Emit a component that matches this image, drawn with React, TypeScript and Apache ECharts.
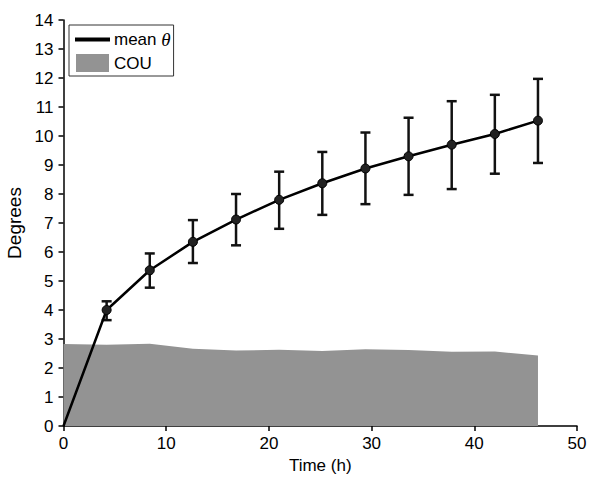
import React, { useEffect, useRef } from "react";
import * as echarts from "echarts";

const timeH = [0, 4.2, 8.4, 12.6, 16.8, 21, 25.2, 29.4, 33.6, 37.8, 42, 46.2];
const meanTheta = [0, 4.0, 5.37, 6.35, 7.12, 7.8, 8.37, 8.88, 9.3, 9.7, 10.07, 10.53];
const errUpper = [null, 4.3, 5.95, 7.1, 8.0, 8.77, 9.45, 10.12, 10.63, 11.2, 11.42, 11.97];
const errLower = [null, 3.65, 4.77, 5.62, 6.23, 6.8, 7.28, 7.65, 7.97, 8.17, 8.7, 9.07];
const couValues = [2.83, 2.8, 2.84, 2.66, 2.6, 2.63, 2.59, 2.65, 2.62, 2.56, 2.57, 2.43];
const xTicks = [0, 10, 20, 30, 40, 50];
const yMax = 14;

export default function App() {
  const ref = useRef<HTMLDivElement>(null);
  useEffect(() => {
    if (!ref.current) return;
    const chart = echarts.init(ref.current, null, { renderer: "svg" });
    const font = "'Liberation Sans', Arial, sans-serif";
    const meanData = timeH.map((t, i) =>
      i === 0 ? { value: [t, meanTheta[i]], symbolSize: 0 } : [t, meanTheta[i]]
    );
    const errData = timeH
      .map((t, i) => [t, errLower[i], errUpper[i]])
      .filter((d) => d[1] != null);
    chart.setOption({
      animation: false,
      backgroundColor: "#fff",
      textStyle: { fontFamily: font },
      grid: {
        left: 63.5,
        right: 23,
        top: 20,
        bottom: 51,
        containLabel: false,
        outerBoundsMode: "none",
      },
      legend: {
        left: 69,
        top: 25,
        orient: "vertical",
        backgroundColor: "#fff",
        borderColor: "#333",
        borderWidth: 1,
        borderRadius: 0,
        padding: [5, 3, 4, 6],
        itemWidth: 33,
        itemHeight: 18,
        itemGap: 5,
        data: [
          { name: "mean θ", icon: "path://M0,0H33V2H0Z", itemStyle: { color: "#000" } },
          { name: "COU", icon: "rect", itemStyle: { color: "#939393" } },
        ],
        formatter: (name: string) =>
          name === "mean θ" ? "{n|mean }{t|θ}" : "{n|COU}",
        textStyle: {
          color: "#000",
          fontSize: 17,
          fontFamily: font,
          rich: {
            n: { fontSize: 17, fontFamily: font, color: "#000" },
            t: {
              fontSize: 19,
              fontFamily: "'Liberation Serif', 'DejaVu Serif', serif",
              fontStyle: "italic",
              color: "#000",
            },
          },
        },
      },
      xAxis: {
        type: "value",
        min: xTicks[0],
        max: xTicks[xTicks.length - 1],
        interval: 10,
        name: "Time (h)",
        nameLocation: "middle",
        nameGap: 26,
        nameTextStyle: { fontSize: 17, color: "#000", fontFamily: font },
        axisLine: { show: true, lineStyle: { color: "#000", width: 1.5 } },
        axisTick: { show: true, inside: false, length: 5, lineStyle: { color: "#000", width: 1.5 } },
        axisLabel: { fontSize: 17, color: "#000", margin: 9, fontFamily: font },
        splitLine: { show: false },
      },
      yAxis: {
        type: "value",
        min: 0,
        max: yMax,
        interval: 1,
        name: "Degrees",
        nameLocation: "middle",
        nameGap: 35,
        nameRotate: 90,
        nameTextStyle: { fontSize: 19, color: "#000", fontFamily: font },
        axisLine: { show: true, lineStyle: { color: "#000", width: 1.5 } },
        axisTick: { show: true, inside: false, length: 5, lineStyle: { color: "#000", width: 1.5 } },
        axisLabel: { fontSize: 17, color: "#000", margin: 10, fontFamily: font },
        splitLine: { show: false },
      },
      series: [
        {
          name: "COU",
          type: "line",
          data: timeH.map((t, i) => [t, couValues[i]]),
          symbol: "none",
          lineStyle: { width: 0, color: "#939393" },
          itemStyle: { color: "#939393" },
          areaStyle: { color: "#939393", opacity: 1 },
          z: 1,
        },
        {
          name: "errorbars",
          type: "custom",
          data: errData,
          z: 2,
          renderItem: (params: any, api: any) => {
            const x = api.value(0);
            const lo = api.coord([x, api.value(1)]);
            const hi = api.coord([x, api.value(2)]);
            const hw = 5;
            const style = { stroke: "#111", lineWidth: 2.5 };
            return {
              type: "group",
              children: [
                { type: "line", shape: { x1: lo[0], y1: lo[1], x2: hi[0], y2: hi[1] }, style },
                { type: "line", shape: { x1: hi[0] - hw, y1: hi[1], x2: hi[0] + hw, y2: hi[1] }, style },
                { type: "line", shape: { x1: lo[0] - hw, y1: lo[1], x2: lo[0] + hw, y2: lo[1] }, style },
              ],
            };
          },
        },
        {
          name: "mean θ",
          type: "line",
          data: meanData,
          symbol: "circle",
          symbolSize: 9,
          lineStyle: { color: "#000", width: 2.5 },
          itemStyle: { color: "#222", borderColor: "#000", borderWidth: 1 },
          z: 3,
        },
      ],
    });
    return () => chart.dispose();
  }, []);
  return (
    <div
      ref={ref}
      style={{ position: "fixed", left: 0, top: 0, width: 600, height: 477 }}
    />
  );
}
